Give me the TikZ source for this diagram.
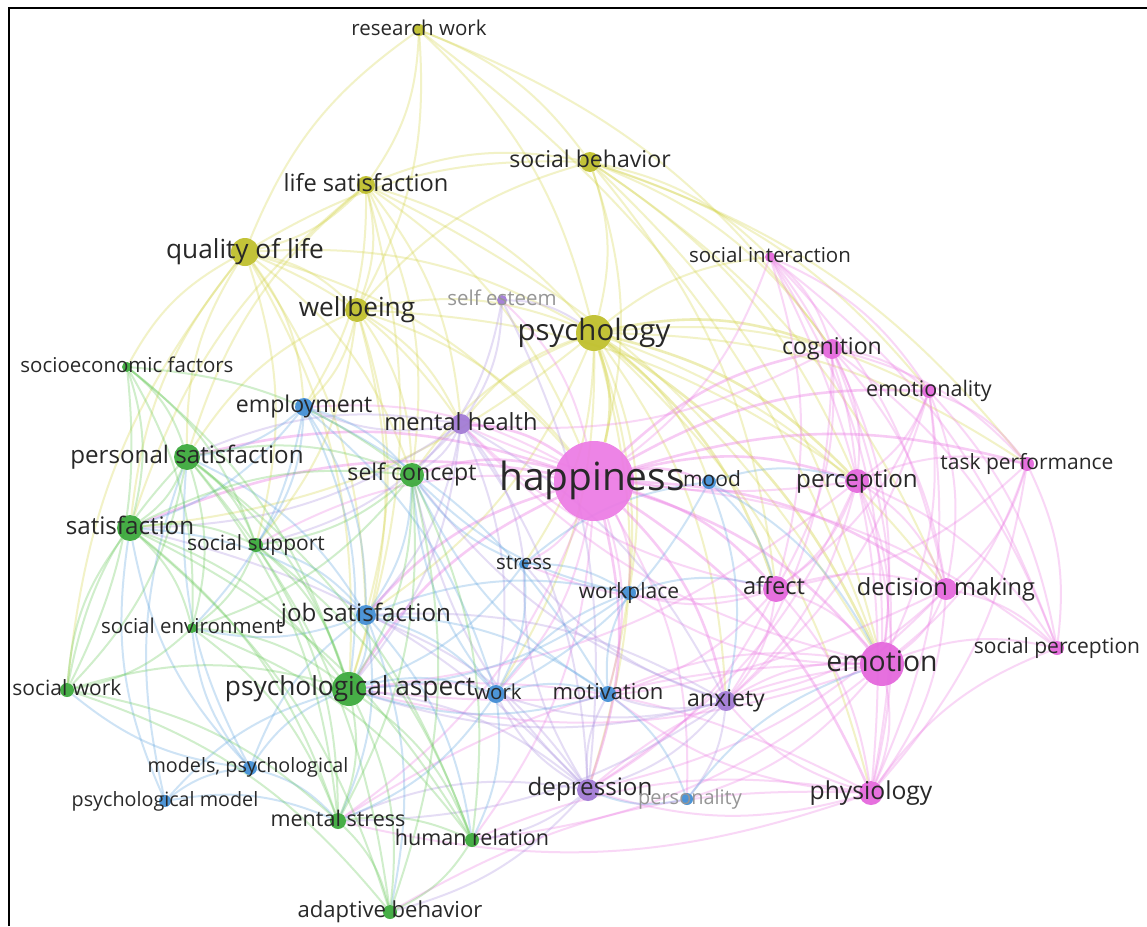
\documentclass[tikz,border=0pt]{standalone}
\usepackage{fontspec}
\setmainfont{Open Sans}
\pgfdeclarelayer{bg}
\pgfdeclarelayer{edges}
\pgfsetlayers{bg,edges,main}
\definecolor{cY}{RGB}{190,190,40}
\definecolor{cG}{RGB}{56,168,56}
\definecolor{cB}{RGB}{62,140,212}
\definecolor{cU}{RGB}{160,120,212}
\definecolor{cP}{RGB}{228,100,220}
\definecolor{cH}{RGB}{236,122,228}
\definecolor{eYc}{RGB}{212,212,70}
\definecolor{eGc}{RGB}{100,200,85}
\definecolor{eBc}{RGB}{95,165,225}
\definecolor{eUc}{RGB}{170,145,225}
\definecolor{ePc}{RGB}{236,125,228}
\definecolor{txt}{RGB}{40,40,40}
\definecolor{txtl}{RGB}{150,150,150}
\tikzset{
  dot/.style={circle,inner sep=0pt,minimum size=#1,draw=none,fill opacity=0.92},
  lbl/.style={/utils/exec={\pgfmathsetmacro\kwfs{1.05*#1}},font=\fontsize{\kwfs}{\kwfs}\selectfont,text=txt,anchor=base,yshift={-0.27*#1pt},inner sep=0pt},
  lblg/.style={lbl=#1,text=txtl},
  edge/.style={line width=2pt,draw opacity=0.3,bend left=16},
  eY/.style={edge,draw=eYc},
  eG/.style={edge,draw=eGc},
  eB/.style={edge,draw=eBc},
  eU/.style={edge,draw=eUc},
  eP/.style={edge,draw=ePc},
  eH/.style={edge,draw=ePc,line width=2.6pt,draw opacity=0.4},
}
\newcommand\kw[7]{%
  \node[dot=#4,fill=#5] (#1) at (#2,#3) {};
  \node[lbl=#6] (l#1) at (#2,#3) {#7};}
\newcommand\kwg[7]{%
  \node[dot=#4,fill=#5] (#1) at (#2,#3) {};
  \node[lblg=#6] (l#1) at (#2,#3) {#7};}
\begin{document}
\begin{tikzpicture}[x=1pt,y=-1pt]
\useasboundingbox (0,0) rectangle (1147,926);
\begin{pgfonlayer}{bg}
\fill[white] (0,0) rectangle (1147,926);
\end{pgfonlayer}
% keywords: name, x, y, diameter, colour, font size, text
\kw{rw}{419}{30}{12}{cY}{19.5}{research work}
\kw{sb}{590}{162}{20}{cY}{22}{social behavior}
\kw{ls}{366}{185}{18}{cY}{22.5}{life satisfaction}
\kw{qol}{245}{252}{28}{cY}{25}{quality of life}
\kw{wb}{357}{310}{24}{cY}{25}{wellbeing}
\kwg{se}{502}{300}{10}{cU}{19.5}{self esteem}
\kw{psy}{594}{333}{36}{cY}{28}{psychology}
\kw{si}{770}{257}{10}{cP}{19.5}{social interaction}
\kw{cog}{832}{349}{20}{cP}{22}{cognition}
\kw{emo}{929}{391}{14}{cP}{20.5}{emotionality}
\kw{sef}{127}{367}{10}{cG}{19.5}{socioeconomic factors}
\kw{emp}{304}{407}{18}{cB}{22}{employment}
\kw{mh}{461}{424}{20}{cU}{22.5}{mental health}
\kw{hap}{594}{481}{80}{cH}{37}{}
\node[lbl=37] (lhap2) at (592,481) {happiness};
\kw{mood}{709}{482}{14}{cB}{20}{}
\node[lbl=20] (lmood2) at (712,481) {mood};
\kw{per}{857}{481}{24}{cP}{23}{perception}
\kw{tp}{1027}{464}{14}{cP}{20}{task performance}
\kw{ps}{187}{457}{26}{cG}{23}{personal satisfaction}
\kw{sc}{412}{475}{24}{cG}{22}{self concept}
\kw{sat}{130}{528}{26}{cG}{23}{satisfaction}
\kw{ss}{256}{545}{14}{cG}{20}{social support}
\kw{str}{524}{564}{10}{cB}{19.5}{stress}
\kw{wp}{629}{593}{14}{cB}{20}{workplace}
\kw{aff}{776}{589}{26}{cP}{22.5}{}
\node[lbl=22.5] (laff2) at (774,588) {affect};
\kw{dm}{946}{589}{22}{cP}{22.5}{decision making}
\kw{js}{366}{615}{20}{cB}{23}{job satisfaction}
\kw{senv}{192}{628}{10}{cG}{19.5}{social environment}
\kw{sp}{1057}{648}{14}{cP}{20}{social perception}
\kw{emn}{882}{664}{44}{cP}{27}{emotion}
\kw{sw}{67}{690}{14}{cG}{20}{social work}
\kw{pa}{349}{689}{34}{cG}{25}{}
\node[lbl=25] (lpa2) at (350,689) {psychological aspect};
\kw{wk}{496}{694}{18}{cB}{19.5}{}
\node[lbl=19.5] (lwk2) at (498,694) {work};
\kw{mot}{608}{694}{16}{cB}{21}{motivation}
\kw{anx}{726}{701}{20}{cU}{22}{anxiety}
\kw{mps}{250}{768}{14}{cB}{18.8}{}
\node[lbl=18.8] (lmps2) at (248,767) {models, psychological};
\kw{pm}{165}{801}{12}{cB}{18.8}{psychological model}
\kw{dep}{588}{790}{22}{cU}{23}{}
\node[lbl=23] (ldep2) at (590,789) {depression};
\kwg{pers}{687}{799}{12}{cB}{19.5}{}
\node[lblg=19] (lpers2) at (690,799) {personality};
\kw{phy}{871}{793}{24}{cP}{23.5}{physiology}
\kw{ms}{338}{821}{16}{cG}{20.5}{mental stress}
\kw{hr}{472}{840}{14}{cG}{20.5}{human relation}
\kw{ab}{390}{912}{14}{cG}{21}{adaptive behavior}
\begin{pgfonlayer}{edges}
\foreach \a/\b in {rw/ls,rw/sb,qol/rw,rw/psy,rw/wb,sb/psy,sb/hap,ls/sb,qol/sb,wb/sb,sb/cog,sb/per,sb/emn,sb/si,ls/qol,ls/wb,ls/psy,ls/hap,ps/ls,sat/ls,ls/sc,ls/mh,qol/wb,qol/psy,qol/hap,ps/qol,sat/qol,sef/qol,sw/qol,qol/mh,qol/emp,qol/pa,wb/psy,wb/hap,wb/mh,wb/sc,ps/wb,wb/pa,wb/emp,mh/psy,sc/psy,psy/dep,psy/anx,psy/mood,psy/dm,psy/phy,psy/js,psy/sat,wb/js,ls/pa,sb/dm,
  rw/emn,rw/cog,sb/emo,sb/tp,qol/js,qol/sc,ls/emp,wb/ss,psy/wk,psy/mot,psy/wp,psy/str,psy/tp,psy/emo,psy/si,qol/ss,ls/emn,wb/per,sb/aff}
  \draw[eY] (\a) to (\b);
\foreach \a/\b in {psy/hap,psy/per,psy/cog,psy/emn,psy/aff}
  \draw[eY,line width=2.6pt,draw opacity=0.4] (\a) to (\b);
\foreach \a/\b in {hap/per,hap/cog,hap/emn,hap/aff,hap/dm,hap/phy,mh/hap,sc/hap,hap/dep,hap/anx,pa/hap,js/hap,ps/hap,sat/hap,hap/emo,hap/tp,hap/mood}
  \draw[eH] (\a) to (\b);
\foreach \a/\b in {hap/str,hap/wp,hap/mot,hap/wk,si/hap,hap/sp,se/hap,hap/pers,ss/hap,emp/hap,hap/ms,hap/hr,si/cog,si/per,si/emn,si/aff,si/dm,si/emo,cog/emo,cog/per,cog/aff,cog/dm,cog/emn,cog/phy,cog/tp,emo/per,emo/dm,emo/emn,emo/tp,emo/aff,emo/phy,emo/sp,per/dm,per/aff,per/emn,per/tp,per/sp,per/phy,tp/dm,tp/emn,tp/sp,tp/aff,aff/dm,aff/emn,aff/phy,aff/anx,aff/dep,aff/mot,dm/emn,dm/sp,dm/phy,emn/phy,emn/sp,anx/emn,dep/emn,mot/emn,phy/anx,phy/dep,phy/sp,pa/phy,ab/phy,hr/phy,ms/emn,
  per/anx,per/dep,cog/anx,cog/sp,emo/anx,dm/anx,dm/dep,tp/phy,si/phy,si/sp,emn/wp,aff/wp,aff/str,phy/mot,phy/ms,emn/hr,emn/pers,cog/mh,per/mh,emn/mh,aff/mh,emn/pa,dm/pa,per/pa}
  \draw[eP] (\a) to (\b);
\foreach \a/\b in {se/mh,se/psy,se/dep,se/sc,mh/dep,mh/anx,mh/sc,mh/str,mh/pa,mh/wk,anx/dep,anx/pers,anx/str,anx/mot,anx/wk,dep/str,pa/dep,dep/mot,dep/wk,ms/dep,js/dep,js/anx,sat/dep,ps/mh,mh/js,
  mh/sat,mh/emp,dep/hr,dep/sc,anx/sc,anx/pa,dep/ab,anx/ms,mh/ss}
  \draw[eU] (\a) to (\b);
\foreach \a/\b in {emp/js,emp/wk,emp/pa,emp/sat,emp/ps,emp/sc,emp/mot,js/wk,js/mot,js/wp,js/pa,mps/js,sat/js,ps/js,sc/js,ss/js,wk/mot,wk/wp,pa/wk,str/wk,mot/wp,mot/pers,pm/mps,mps/pa,mps/sat,mps/ms,pm/pa,pm/sat,str/wp,str/mood,mood/per,mood/aff,mood/anx,pers/dep,pers/emn,mps/ps,js/ms,wk/hr,mood/emn,wp/aff,
  emp/ss,emp/senv,js/senv,js/hr,wk/ms,wk/sc,mot/pa,mot/sc,wp/pa,wp/sc,str/pa,str/sc,mood/wk,mps/senv,pm/ps,mps/sw,pm/ms,js/ab}
  \draw[eB] (\a) to (\b);
\foreach \a/\b in {sef/ps,sef/sat,sef/pa,sef/sc,ps/sat,ps/ss,ps/pa,ps/sc,ps/senv,ps/ms,ps/hr,sat/ss,sat/pa,sat/senv,sw/sat,sat/sc,sat/ms,sat/hr,sc/pa,sc/ss,sc/ms,ss/pa,ss/senv,senv/pa,sw/pa,sw/ps,pa/ms,pa/hr,pa/ab,ms/ab,ms/hr,hr/ab,sat/ab,ps/ab,sw/ab,sc/hr,ss/ms,senv/ms,sef/sw,sw/ms,
  sef/ss,sef/senv,ps/sw,senv/sw,sc/senv,sc/ab,ss/hr,senv/hr}
  \draw[eG] (\a) to (\b);
\end{pgfonlayer}
% frame
\draw[line width=2.6pt] (9,926) -- (9,8) -- (1147,8);
\end{tikzpicture}
\end{document}
